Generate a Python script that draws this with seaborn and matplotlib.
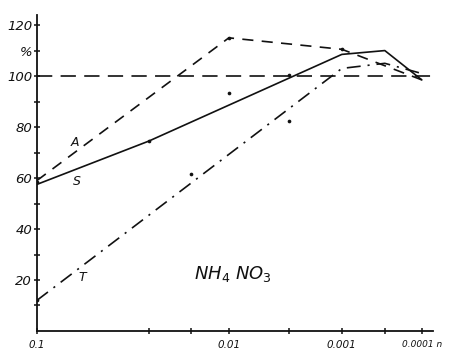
import numpy as np
import pandas as pd
import matplotlib
matplotlib.use("Agg")
import matplotlib.pyplot as plt
from matplotlib.ticker import FixedLocator, FixedFormatter
import seaborn as sns

# Normality of NH4NO3 solution (x) and relative response in % (y)
conc_ticks = [0.1, 0.03, 0.02, 0.01, 0.003, 0.001, 0.0003, 0.0001]
conc_tick_labels = ["0.1", "", "", "0.01", "", "0.001", "", "0.0001 n"]
pct_ticks = [10, 20, 30, 40, 50, 60, 70, 80, 90, 100, 110, 120]
pct_tick_labels = ["", "20", "", "40", "", "60", "", "80", "", "100", "%", "120"]

# Drawn curves
a_conc = [0.1, 0.01, 0.001, 0.0001]
a_pct = [59, 115, 110.5, 98.5]
s_conc = [0.1, 0.03, 0.001, 0.0003, 0.0001]
s_pct = [57.5, 74.5, 108.5, 110, 98.5]
t_conc = [0.1, 0.001, 0.0003, 0.0001]
t_pct = [12, 103, 105, 101]

# Measured points
s_obs_conc = [0.1, 0.03, 0.01, 0.003]
s_obs_pct = [58.5, 74.5, 93.5, 100.5]
t_obs_conc = [0.1, 0.02, 0.003]
t_obs_pct = [12, 61.5, 82.5]
a_obs_conc = [0.01, 0.001]
a_obs_pct = [115, 110.5]

reference_level = 100

sns.set_style("ticks")
plt.rcParams["font.family"] = ["DejaVu Sans"]
plt.rcParams["lines.scale_dashes"] = False

# Dilution axis: decades are drawn progressively narrower.
# Scale value grows with concentration; the axis is then inverted.
_knot_decades = np.array([0, 1, 1.523, 1.699, 2, 2.523, 3, 3.523, 4, 6])
_knot_pos = np.array([-192, 0, 112, 154, 192, 252, 305, 348, 385, 540])


def dilution_forward(c):
    c = np.asarray(c, dtype=float)
    d = -np.log10(np.clip(c, 1e-12, None))
    return -np.interp(d, _knot_decades, _knot_pos)


def dilution_inverse(u):
    u = -np.asarray(u, dtype=float)
    d = np.interp(u, _knot_pos, _knot_decades)
    return 10.0 ** (-d)


fig = plt.figure(figsize=(4.61, 3.52), dpi=100)
ax = fig.add_axes([0.080, 0.0597, 0.859, 0.898])
ax.set_xscale("function", functions=(dilution_forward, dilution_inverse))

ink = "#111111"
lw = 1.2

ax.axhline(reference_level, color=ink, lw=lw, linestyle=(0, (11, 6)))

df_a = pd.DataFrame({"conc": a_conc, "pct": a_pct})
df_s = pd.DataFrame({"conc": s_conc, "pct": s_pct})
df_t = pd.DataFrame({"conc": t_conc, "pct": t_pct})

sns.lineplot(data=df_a, x="conc", y="pct", ax=ax, color=ink, lw=lw,
             linestyle=(0, (8, 6)), sort=False)
sns.lineplot(data=df_s, x="conc", y="pct", ax=ax, color=ink, lw=lw, sort=False)
sns.lineplot(data=df_t, x="conc", y="pct", ax=ax, color=ink, lw=lw,
             linestyle=(0, (10, 5, 1.5, 5)), sort=False)

for cx, py in [(s_obs_conc, s_obs_pct), (t_obs_conc, t_obs_pct), (a_obs_conc, a_obs_pct)]:
    sns.scatterplot(x=cx, y=py, ax=ax, color=ink, s=7, linewidth=0, zorder=5)

ax.set_xlim(0.1, 7.2e-5)
ax.set_ylim(0, 124)

ax.xaxis.set_major_locator(FixedLocator(conc_ticks))
ax.xaxis.set_major_formatter(FixedFormatter(conc_tick_labels))
ax.xaxis.set_minor_locator(FixedLocator([]))
ax.yaxis.set_major_locator(FixedLocator(pct_ticks))
ax.yaxis.set_major_formatter(FixedFormatter(pct_tick_labels))

ax.tick_params(axis="both", direction="inout", length=5, width=1.1, color=ink)
ax.tick_params(axis="x", labelsize=7.5, pad=4)
ax.tick_params(axis="y", labelsize=9.5, pad=1)
xlabels = ax.get_xticklabels()
xlabels[-1].set_fontsize(6.5)
for lab in xlabels + ax.get_yticklabels():
    lab.set_fontstyle("italic")
    lab.set_color(ink)

for side in ["top", "right"]:
    ax.spines[side].set_visible(False)
for side in ["left", "bottom"]:
    ax.spines[side].set_linewidth(1.3)
    ax.spines[side].set_color(ink)

ax.set_xlabel("")
ax.set_ylabel("")

ax.text(0.096, 0.595, "A", transform=ax.transAxes, fontsize=9, style="italic",
        ha="center", va="center", color=ink)
ax.text(0.101, 0.472, "S", transform=ax.transAxes, fontsize=9, style="italic",
        ha="center", va="center", color=ink)
ax.text(0.114, 0.168, "T", transform=ax.transAxes, fontsize=9, style="italic",
        ha="center", va="center", color=ink)
ax.text(0.495, 0.18, r"$NH_4\ NO_3$", transform=ax.transAxes, fontsize=13,
        ha="center", va="center", color=ink)

fig.savefig("out.png", dpi=100)
